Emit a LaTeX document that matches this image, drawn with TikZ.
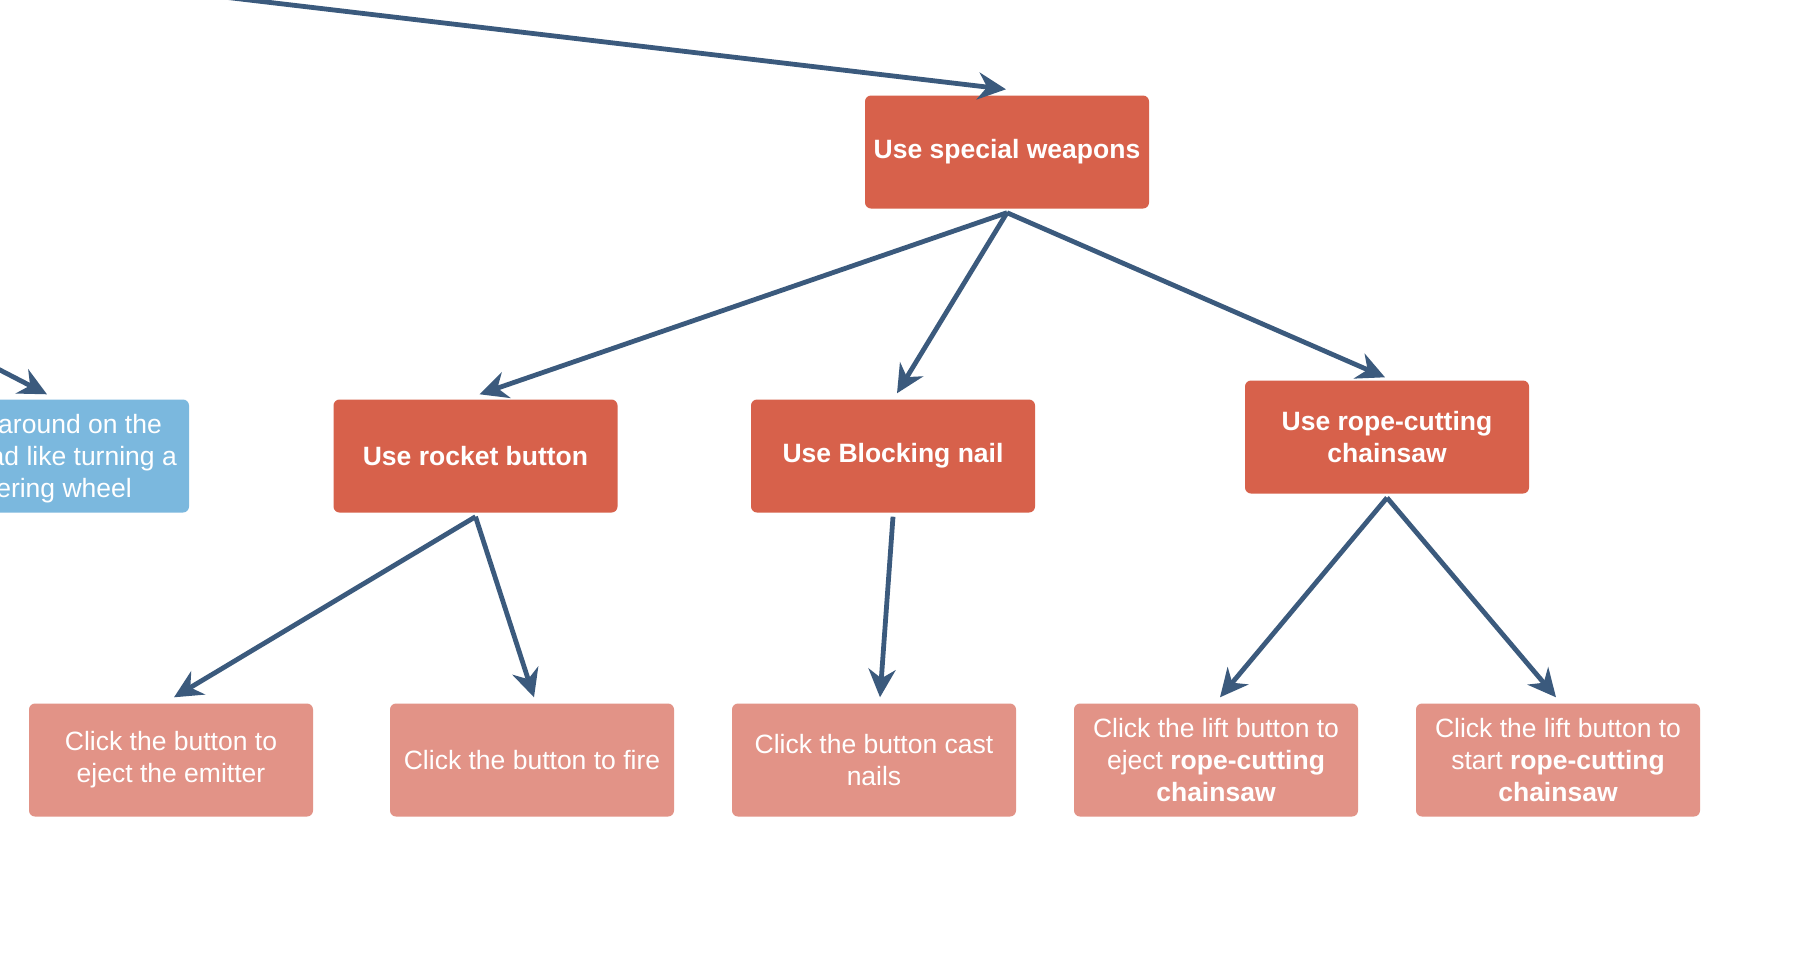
\documentclass[tikz,border=0pt]{standalone}
\usepackage{fontspec}
\setmainfont{Liberation Sans}
\usetikzlibrary{arrows.meta}
\definecolor{hdr}{HTML}{D7614B}
\definecolor{sub}{HTML}{E29387}
\definecolor{blu}{HTML}{7BB8DE}
\definecolor{arr}{HTML}{3B5A7D}
\tikzset{
  box/.style={rounded corners=6pt, minimum width=284pt, minimum height=113pt, inner sep=0pt, align=center, text=white, font=\fontsize{26.5}{32}\selectfont},
  hbox/.style={box, fill=hdr, font=\fontsize{26.5}{32}\selectfont\bfseries},
  sbox/.style={box, fill=sub},
  conn/.style={draw=arr, line width=4.8pt, -{Stealth[length=28pt,width=27pt,inset=9pt]}},
  frag/.style={anchor=base east, text=white, inner sep=0pt, font=\fontsize{26.5}{32}\selectfont}
}
\begin{document}
\begin{tikzpicture}[x=1pt,y=-1pt]
\useasboundingbox (0,0) rectangle (1800,970);
\clip (0,0) rectangle (1800,970);
\fill[white] (0,0) rectangle (1800,970);
% nodes
\node[hbox] (sw) at (1007,152) {Use special weapons};
\node[hbox] (rb) at (475.5,456) {Use rocket button};
\node[hbox] (bn) at (893,456) {Use Blocking nail};
\node[hbox] (rc) at (1387,437) {Use rope-cutting\\chainsaw};
\node[sbox] (b1) at (171,760) {Click the button to\\eject the emitter};
\node[sbox] (b2) at (532,760) {Click the button to fire};
\node[sbox] (b3) at (874,760) {Click the button cast\\nails};
\node[sbox] (b4) at (1216,760) {Click the lift button to\\eject \textbf{rope-cutting}\\\textbf{chainsaw}};
\node[sbox] (b5) at (1558,760) {Click the lift button to\\start \textbf{rope-cutting}\\\textbf{chainsaw}};
% partially visible blue node
\node[box, fill=blu] (bl) at (47,456) {};
\node[frag] (bl1) at (162,433) {around on the};
\node[frag] (bl2) at (177,465) {ad like turning a};
\node[frag] (bl3) at (132,497) {ering wheel};
% off-canvas sources
\coordinate (src1) at (-200,-53);
\coordinate (src2) at (-60,339);
% connectors
\draw[conn] (src1) -- ([xshift=-1pt,yshift=6pt]sw.north);
\draw[conn] (src2) -- ([yshift=5pt]bl.north);
\draw[conn] ([yshift=-4pt]sw.south) -- ([xshift=4pt,yshift=5pt]rb.north);
\draw[conn] ([yshift=-4pt]sw.south) -- ([xshift=4pt,yshift=6pt]bn.north);
\draw[conn] ([yshift=-4pt]sw.south) -- ([xshift=-2pt,yshift=3pt]rc.north);
\draw[conn] ([yshift=-4pt]rb.south) -- ([xshift=3pt,yshift=6pt]b1.north);
\draw[conn] ([yshift=-4pt]rb.south) -- ([xshift=2pt,yshift=6pt]b2.north);
\draw[conn] ([yshift=-4pt]bn.south) -- ([xshift=6pt,yshift=6pt]b3.north);
\draw[conn] ([yshift=-4pt]rc.south) -- ([xshift=4pt,yshift=6pt]b4.north);
\draw[conn] ([yshift=-4pt]rc.south) -- ([xshift=-2pt,yshift=6pt]b5.north);
\end{tikzpicture}
\end{document}
